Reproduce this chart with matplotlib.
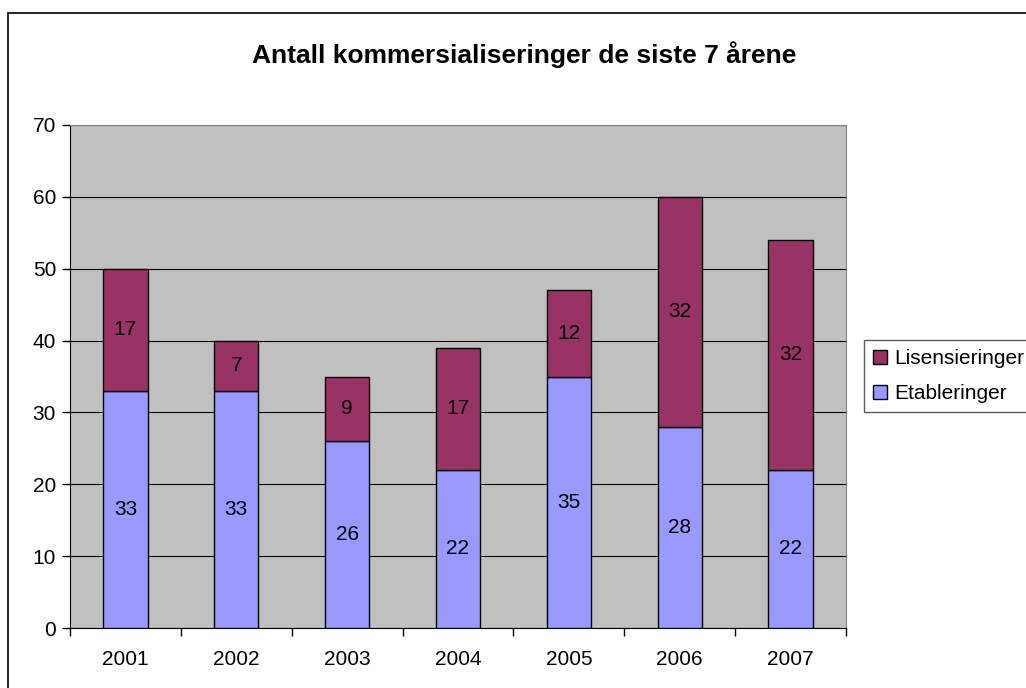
import matplotlib.pyplot as plt
from matplotlib.patches import Rectangle, Patch

plt.rcParams['font.family'] = ['Liberation Sans', 'DejaVu Sans']

years = ['2001', '2002', '2003', '2004', '2005', '2006', '2007']
etableringer = [33, 33, 26, 22, 35, 28, 22]
lisensieringer = [17, 7, 9, 17, 12, 32, 32]

c_etab = '#9999FF'
c_lis = '#993366'

fig = plt.figure(figsize=(10.26, 6.88), dpi=100)
ax = fig.add_axes([70/1026, 60/688, 776/1026, 503/688])
ax.set_facecolor('#C0C0C0')

x = range(len(years))
w = 0.4
ax.bar(x, etableringer, w, color=c_etab, edgecolor='black', linewidth=1, zorder=3)
ax.bar(x, lisensieringer, w, bottom=etableringer, color=c_lis, edgecolor='black', linewidth=1, zorder=3)

for i in x:
    ax.text(i, etableringer[i] / 2, str(etableringer[i]), ha='center', va='center', fontsize=15, zorder=4)
    ax.text(i, etableringer[i] + lisensieringer[i] / 2, str(lisensieringer[i]), ha='center', va='center', fontsize=15, zorder=4)

ax.set_xlim(-0.5, 6.5)
ax.set_ylim(0, 70)
ax.set_yticks(range(0, 71, 10))
ax.tick_params(axis='y', labelsize=15, direction='out', length=6, width=1, pad=4)
ax.set_xticks([i - 0.5 for i in range(8)])
ax.set_xticklabels([])
ax.set_xticks(list(x), minor=True)
ax.set_xticklabels(years, minor=True)
ax.tick_params(axis='x', which='major', direction='out', length=6, width=1)
ax.tick_params(axis='x', which='minor', length=0, labelsize=15, pad=16)
ax.yaxis.grid(True, color='black', linewidth=0.8, zorder=1)
ax.set_axisbelow(True)
for s in ['top', 'right']:
    ax.spines[s].set_color('#808080')

fig.suptitle('Antall kommersialiseringer de siste 7 årene', x=524/1026, y=1 - 55/688,
             va='center', fontsize=19, fontweight='bold')

handles = [Patch(facecolor=c_lis, edgecolor='black'), Patch(facecolor=c_etab, edgecolor='black')]
leg = fig.legend(handles, ['Lisensieringer', 'Etableringer'], loc='upper left',
                 bbox_to_anchor=(864/1026, 1 - 340/688), fontsize=15, frameon=True,
                 fancybox=False, edgecolor='#333333', handlelength=0.65, handleheight=0.65,
                 handletextpad=0.35, borderpad=0.45, labelspacing=0.75, borderaxespad=0)
leg.get_frame().set_linewidth(1)

fig.add_artist(Rectangle((8/1026, -0.1), 2, 1.1 - 13/688, transform=fig.transFigure,
                         fill=False, edgecolor='black', linewidth=1.2))

fig.savefig('out.png', dpi=100)
